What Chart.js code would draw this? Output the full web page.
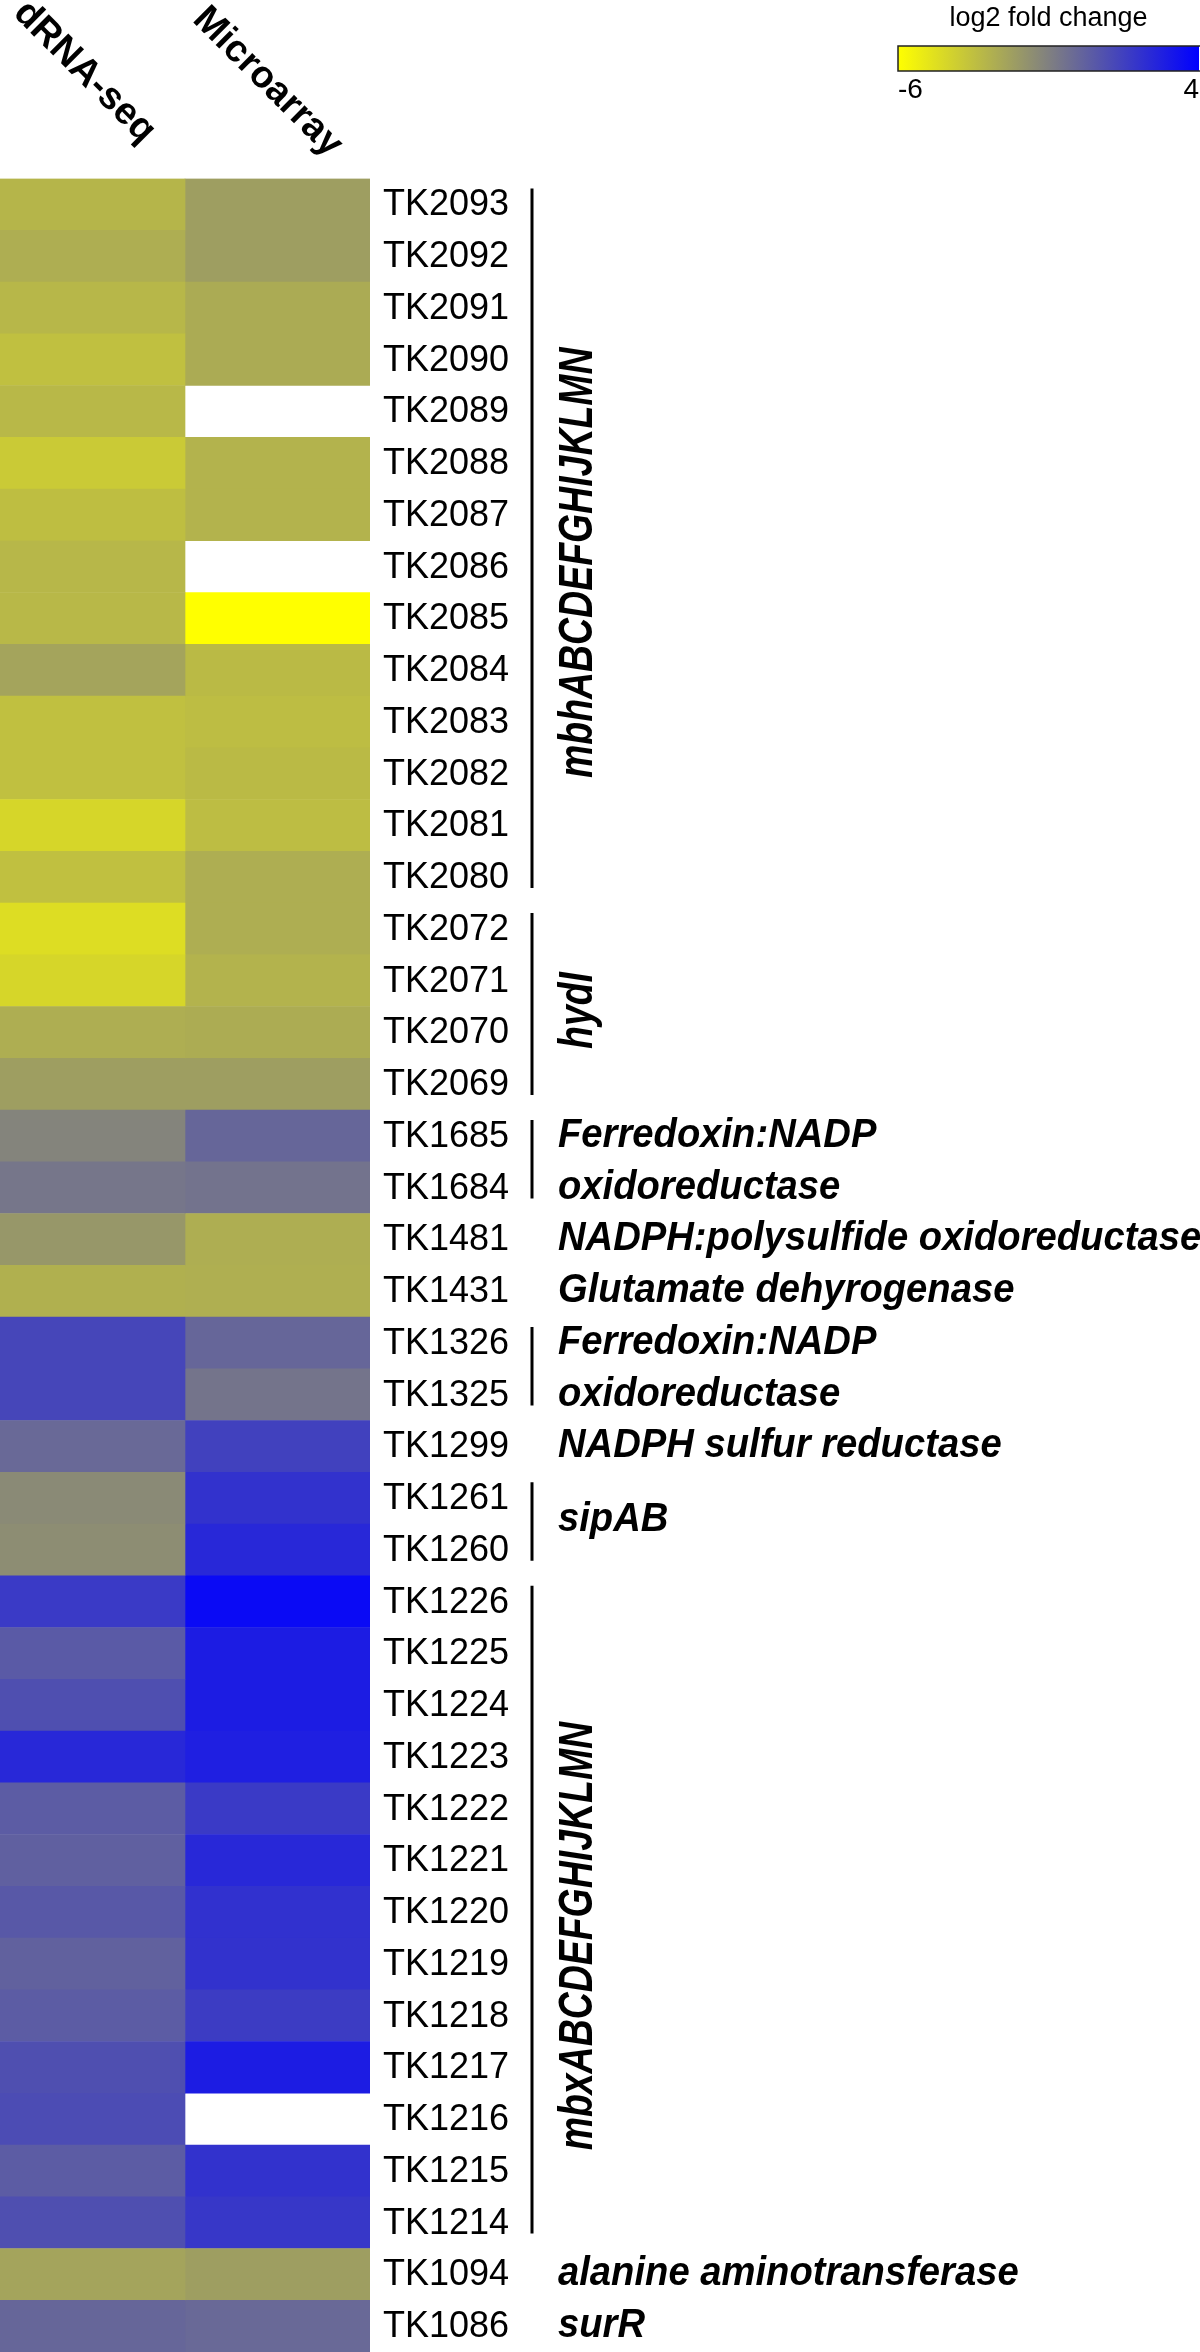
<!DOCTYPE html>
<html lang="en">
<head>
<meta charset="UTF-8" />
<title>log2 fold change heatmap</title>
<script src="https://cdn.jsdelivr.net/npm/chart.js"></script>
<style>
  body, html {
    margin: 0; padding: 0;
    background: #fff;
  }
  #heat { display: block; }
</style>
</head>
<body>
<canvas id="heat" width="1200" height="2352"></canvas>

<script>
  // rows, top to bottom
  const genes = [
    'TK2093','TK2092','TK2091','TK2090','TK2089','TK2088','TK2087','TK2086','TK2085','TK2084',
    'TK2083','TK2082','TK2081','TK2080','TK2072','TK2071','TK2070','TK2069','TK1685','TK1684',
    'TK1481','TK1431','TK1326','TK1325','TK1299','TK1261','TK1260','TK1226','TK1225','TK1224',
    'TK1223','TK1222','TK1221','TK1220','TK1219','TK1218','TK1217','TK1216','TK1215','TK1214',
    'TK1094','TK1086'
  ];
  const columns = ['dRNA-seq', 'Microarray'];

  // log2 fold change (null = no value)
  const drnaSeq = [
    -3.1, -2.8, -3.15, -3.5, -3.2, -3.9, -3.45, -3.15, -3.2, -2.4,
    -3.5, -3.5, -4.4, -3.5, -4.65, -4.4, -2.8, -2.2, -1.15, -0.6,
    -1.9, -2.9, 1.25, 1.25, -0.1, -1.4, -1.5, 1.75, 0.5, 0.9,
    2.45, 0.4, 0.25, 0.55, 0.2, 0.4, 0.9, 1.05, 0.4, 0.9,
    -2.4, 0.0
  ];
  const microarray = [
    -2.2, -2.2, -2.7, -2.7, null, -3.0, -3.0, null, -6.0, -3.3,
    -3.4, -3.3, -3.4, -2.8, -2.8, -3.0, -2.75, -2.2, 0.0, -0.5,
    -2.8, -2.85, 0.0, -0.55, 1.45, 2.05, 2.45, 3.6, 2.9, 2.9,
    2.8, 1.75, 2.45, 2.1, 2.05, 1.65, 2.9, null, 2.05, 1.85,
    -2.2, -0.1
  ];

  const colorTicks = [-6, 4];
  const colorTitle = 'log2 fold change';

  // gene clusters with a bracket
  const brackets = [
    ['TK2093', 'TK2080'], ['TK2072', 'TK2069'], ['TK1685', 'TK1684'],
    ['TK1326', 'TK1325'], ['TK1261', 'TK1260'], ['TK1226', 'TK1214']
  ];
  const clusterNames = [
    ['TK2093', 'TK2080', 'mbhABCDEFGHIJKLMN'],
    ['TK2072', 'TK2069', 'hydI'],
    ['TK1226', 'TK1214', 'mbxABCDEFGHIJKLMN']
  ];
  const rowNotes = [
    ['TK1685', 'Ferredoxin:NADP'], ['TK1684', 'oxidoreductase'],
    ['TK1481', 'NADPH:polysulfide oxidoreductase'], ['TK1431', 'Glutamate dehyrogenase'],
    ['TK1326', 'Ferredoxin:NADP'], ['TK1325', 'oxidoreductase'],
    ['TK1299', 'NADPH sulfur reductase'],
    ['TK1094', 'alanine aminotransferase'], ['TK1086', 'surR']
  ];
  const pairNotes = [['TK1261', 'TK1260', 'sipAB']];

  const YELLOW = [255, 255, 0], GRAY = [128, 128, 128], BLUE = [0, 0, 255];

  function mix(a, b, t) {
    t = Math.max(0, Math.min(1, t));
    return 'rgb(' + a.map((c, i) => Math.round(c + (b[i] - c) * t)).join(',') + ')';
  }
  function cellColor(v) {
    const lo = colorTicks[0], hi = colorTicks[1], mid = (lo + hi) / 2;
    if (v == null) return 'rgba(0,0,0,0)';
    if (v <= mid) return mix(YELLOW, GRAY, (v - lo) / (mid - lo));
    return mix(GRAY, BLUE, (v - mid) / (hi - mid));
  }

  const FONT = '"Liberation Sans", Arial, sans-serif';
  // the cluster names don't sit exactly mid-bracket in the original
  const nameShift = [22, 4, 24];

  const decor = {
    id: 'decor',
    afterDraw(chart) {
      const c = chart.ctx;
      const x = chart.scales.x, y = chart.scales.y;
      const rowH = y.getPixelForValue(1) - y.getPixelForValue(0);
      const rowTop = g => y.getPixelForValue(genes.indexOf(g)) - rowH / 2;
      const rowBot = g => y.getPixelForValue(genes.indexOf(g)) + rowH / 2;
      c.save();
      c.fillStyle = '#000';
      c.strokeStyle = '#000';

      // column headers, tilted
      c.font = 'bold 38px ' + FONT;
      c.textAlign = 'center';
      c.textBaseline = 'middle';
      [[0.5, -8, 72], [1.5, -10, 82]].forEach(([v, dx, cy], i) => {
        c.save();
        c.translate(x.getPixelForValue(v) + dx, cy);
        c.rotate(Math.PI / 4);
        c.fillText(columns[i], 0, 0);
        c.restore();
      });

      // brackets
      const bx = 532;
      c.lineWidth = 3;
      brackets.forEach(([a, b]) => {
        c.beginPath();
        c.moveTo(bx, rowTop(a) + 10);
        c.lineTo(bx, rowBot(b) - 15);
        c.stroke();
      });

      // rotated cluster names
      c.font = 'italic bold 48px ' + FONT;
      c.textAlign = 'center';
      c.textBaseline = 'middle';
      clusterNames.forEach(([a, b, name], i) => {
        const cy = (rowTop(a) + rowBot(b)) / 2 + nameShift[i];
        c.save();
        c.translate(579, cy);
        c.rotate(-Math.PI / 2);
        c.scale(0.78, 1);
        c.fillText(name, 0, 0);
        c.restore();
      });

      // gene product notes
      c.font = 'italic bold 40px ' + FONT;
      c.textAlign = 'left';
      const note = (text, cy) => {
        c.save();
        c.translate(558, cy);
        c.scale(0.955, 1);
        c.fillText(text, 0, 0);
        c.restore();
      };
      rowNotes.forEach(([g, text]) => note(text, y.getPixelForValue(genes.indexOf(g))));
      pairNotes.forEach(([a, b, text]) => note(text, (rowTop(a) + rowBot(b)) / 2 - 4));

      // colour bar
      const cbL = 898, cbR = 1199, cbT = 46, cbB = 71;
      const grad = c.createLinearGradient(cbL, 0, cbR, 0);
      grad.addColorStop(0, cellColor(colorTicks[0]));
      grad.addColorStop(0.5, cellColor((colorTicks[0] + colorTicks[1]) / 2));
      grad.addColorStop(1, cellColor(colorTicks[1]));
      c.fillStyle = grad;
      c.fillRect(cbL, cbT, cbR - cbL, cbB - cbT);
      c.lineWidth = 1.5;
      c.strokeStyle = '#222';
      c.strokeRect(cbL, cbT, cbR - cbL + 2, cbB - cbT);
      c.fillStyle = '#000';
      c.font = '27px ' + FONT;
      c.textBaseline = 'alphabetic';
      c.textAlign = 'center';
      c.fillText(colorTitle, (cbL + cbR) / 2, 26);
      c.font = '28px ' + FONT;
      c.textAlign = 'left';
      c.fillText(String(colorTicks[0]), cbL, 98);
      c.textAlign = 'right';
      c.fillText(String(colorTicks[1]), cbR, 98);
      c.restore();
    }
  };

  new Chart(document.getElementById('heat').getContext('2d'), {
    type: 'bar',
    data: {
      labels: genes,
      datasets: [
        {
          label: columns[0],
          data: drnaSeq.map(v => v == null ? null : [0, 1]),
          backgroundColor: drnaSeq.map(cellColor)
        },
        {
          label: columns[1],
          data: microarray.map(v => v == null ? null : [1, 2]),
          backgroundColor: microarray.map(cellColor)
        }
      ]
    },
    options: {
      indexAxis: 'y',
      responsive: false,
      animation: false,
      devicePixelRatio: 1,
      layout: { padding: { top: 178.5, left: 0, right: 0, bottom: 0 } },
      datasets: {
        bar: {
          grouped: false,
          barPercentage: 1,
          categoryPercentage: 1,
          borderWidth: 0
        }
      },
      plugins: { legend: { display: false }, tooltip: { enabled: false } },
      scales: {
        x: { min: 0, max: 2, display: false },
        y: {
          position: 'right',
          grid: { display: false, drawTicks: false },
          border: { display: false },
          ticks: {
            autoSkip: false,
            padding: 13,
            labelOffset: 1,
            color: '#000',
            font: { family: 'Liberation Sans', size: 36 }
          },
          afterFit(scale) {
            scale.width = 830;
            scale.paddingTop = 0;
            scale.paddingBottom = 0;
          }
        }
      }
    },
    plugins: [decor]
  });
</script>
</body>
</html>
